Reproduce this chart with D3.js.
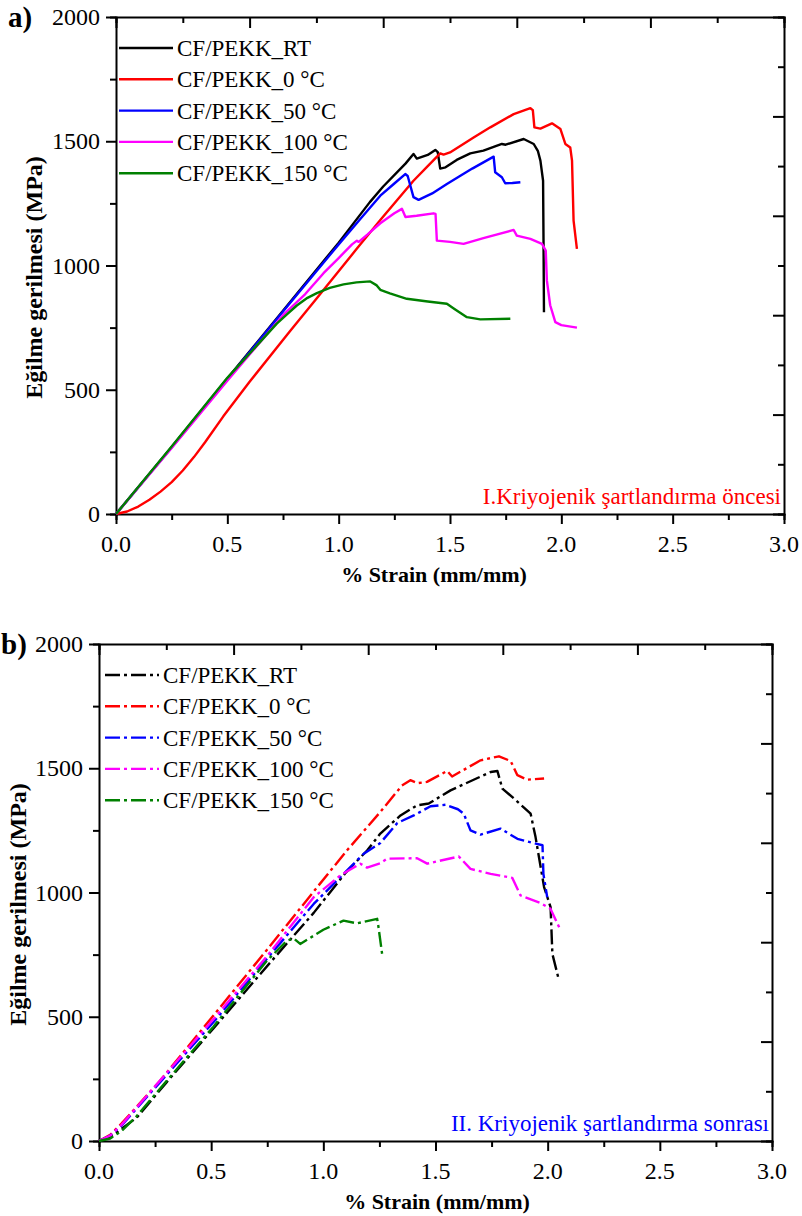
<!DOCTYPE html>
<html>
<head>
<meta charset="utf-8">
<script src="https://cdnjs.cloudflare.com/ajax/libs/d3/7.8.5/d3.min.js"></script>
<style>
  body { margin: 0; background: #fff; }
</style>
</head>
<body>
<div id="chart"></div>
<script>
// legend names + colours (same for both panels)
const seriesNames = ["CF/PEKK_RT", "CF/PEKK_0 °C", "CF/PEKK_50 °C", "CF/PEKK_100 °C", "CF/PEKK_150 °C"];
const seriesColors = ["#000000", "#ff0000", "#0000ff", "#ff00ff", "#008000"];

const xTickValues = [0, 0.5, 1.0, 1.5, 2.0, 2.5, 3.0];
const yTickValues = [0, 500, 1000, 1500, 2000];

const serif = "'Liberation Serif', 'Times New Roman', Times, serif";

// a) before cryogenic conditioning  [strain %, stress MPa]
const rtBefore = [[0,0],[0.25,270],[0.5,545],[0.75,818],[1.0,1092],[1.14,1255],[1.2,1318],[1.3,1410],[1.336,1449],[1.351,1430],[1.40,1445],[1.434,1465],[1.445,1456],[1.456,1390],[1.48,1395],[1.53,1425],[1.591,1451],[1.65,1462],[1.733,1489],[1.75,1486],[1.831,1509],[1.876,1489],[1.895,1460],[1.906,1422],[1.918,1341],[1.92,1100],[1.922,812]];
const c0Before = [[0,0],[0.05,10],[0.1,30],[0.15,57],[0.2,90],[0.25,128],[0.3,175],[0.35,229],[0.4,289],[0.482,393],[0.6,532],[0.782,736],[0.9,866],[1.082,1068],[1.187,1183],[1.336,1341],[1.4,1400],[1.456,1451],[1.471,1446],[1.5,1455],[1.606,1515],[1.681,1556],[1.786,1609],[1.861,1633],[1.872,1625],[1.879,1556],[1.906,1551],[1.958,1572],[1.996,1549],[2.018,1489],[2.040,1475],[2.048,1422],[2.055,1181],[2.07,1067]];
const c50Before = [[0,0],[0.25,268],[0.5,542],[0.75,815],[1.0,1085],[1.1,1190],[1.187,1281],[1.25,1330],[1.299,1368],[1.31,1360],[1.336,1275],[1.359,1264],[1.42,1290],[1.486,1328],[1.6,1390],[1.696,1438],[1.703,1375],[1.733,1355],[1.748,1331],[1.78,1332],[1.816,1335]];
const c100Before = [[0,0],[0.25,266],[0.5,536],[0.75,800],[0.85,885],[0.932,969],[1.0,1030],[1.06,1085],[1.082,1100],[1.09,1095],[1.13,1125],[1.187,1170],[1.25,1210],[1.284,1228],[1.3,1195],[1.35,1200],[1.426,1210],[1.435,1208],[1.441,1100],[1.5,1095],[1.561,1087],[1.65,1110],[1.786,1143],[1.80,1120],[1.861,1107],[1.913,1087],[1.93,1060],[1.935,940],[1.95,840],[1.973,772],[2.0,760],[2.07,750]];
const c150Before = [[0,0],[0.25,272],[0.5,548],[0.722,766],[0.77,805],[0.812,839],[0.86,870],[0.902,889],[0.96,910],[1.022,924],[1.08,932],[1.142,936],[1.171,920],[1.187,902],[1.23,888],[1.306,866],[1.4,855],[1.486,846],[1.52,825],[1.576,792],[1.636,783],[1.771,786]];

// b) after cryogenic conditioning
const rtAfter = [[0,0],[0.05,15],[0.168,94],[0.3,235],[0.51,453],[0.763,718],[0.957,918],[1.1,1080],[1.195,1169],[1.254,1237],[1.344,1310],[1.418,1351],[1.47,1358],[1.567,1411],[1.746,1485],[1.776,1489],[1.798,1418],[1.85,1378],[1.924,1317],[1.946,1223],[1.984,1022],[2.013,941],[2.021,753],[2.05,648]];
const c0After = [[0,0],[0.05,25],[0.1,70],[0.272,242],[0.54,538],[0.749,770],[0.957,1004],[1.106,1170],[1.254,1324],[1.35,1430],[1.388,1452],[1.42,1440],[1.462,1445],[1.552,1489],[1.574,1467],[1.701,1532],[1.783,1548],[1.835,1529],[1.865,1472],[1.909,1454],[1.984,1459]];
const c50After = [[0,0],[0.05,22],[0.1,62],[0.3,265],[0.51,478],[0.75,735],[0.957,954],[1.18,1156],[1.254,1199],[1.33,1280],[1.403,1310],[1.478,1347],[1.545,1353],[1.6,1335],[1.626,1317],[1.656,1250],[1.701,1233],[1.79,1257],[1.865,1216],[1.977,1190],[1.981,1075],[1.998,981]];
const c100After = [[0,0],[0.05,22],[0.1,65],[0.3,272],[0.51,490],[0.75,745],[0.957,981],[1.076,1069],[1.165,1116],[1.195,1100],[1.254,1118],[1.284,1136],[1.418,1138],[1.463,1116],[1.604,1145],[1.656,1095],[1.746,1075],[1.842,1059],[1.879,988],[1.969,957],[2.013,934],[2.058,847]];
const c150After = [[0,0],[0.05,10],[0.1,40],[0.168,100],[0.3,240],[0.51,460],[0.749,726],[0.838,806],[0.868,815],[0.897,793],[1.0,850],[1.09,887],[1.15,876],[1.24,894],[1.246,860],[1.262,753]];

class StrainChart {

    /**
     * one panel of the figure
     * @param svg   parent svg
     * @param opts  frame position, series, labels
     */
    constructor(svg, opts) {
        this.svg = svg;
        this.opts = opts;
        this.g = svg.append("g").attr("font-family", serif);
        this.x = d3.scaleLinear().domain([0, 3]).range([opts.left, opts.right]);
        this.y = d3.scaleLinear().domain([0, 2000]).range([opts.bottom, opts.top]);
        this.update();
    }

    update() {
        const o = this.opts, x = this.x, y = this.y, g = this.g;

        // bottom axis, ticks outward
        g.append("g")
            .attr("transform", `translate(0,${o.bottom})`)
            .call(d3.axisBottom(x).tickValues(d3.range(0, 3.01, 0.25)).tickSize(6).tickFormat(""))
            .call(a => a.selectAll("line").attr("stroke-width", 2).attr("y2", d => (Math.round(d * 4) % 2 === 0 ? 10 : 6)));
        g.append("g")
            .selectAll("text").data(xTickValues).enter().append("text")
            .attr("x", d => x(d)).attr("y", o.bottom + 38)
            .attr("text-anchor", "middle").attr("font-size", 24)
            .attr("font-family", serif)
            .text(d => d.toFixed(1));

        // top axis, ticks inward every 0.3
        g.append("g")
            .attr("transform", `translate(0,${o.top})`)
            .call(d3.axisBottom(x).tickValues(d3.range(0, 3.01, 0.3)).tickFormat(""))
            .call(a => a.selectAll("line").attr("stroke-width", 2).attr("y2", d => (Math.round(d / 0.3) % 2 === 0 ? 11 : 6)));

        // left axis, ticks outward
        g.append("g")
            .attr("transform", `translate(${o.left},0)`)
            .call(d3.axisLeft(y).tickValues(d3.range(0, 2001, 250)).tickFormat(""))
            .call(a => a.selectAll("line").attr("stroke-width", 2).attr("x2", d => (d % 500 === 0 ? -10 : -6)));
        g.append("g")
            .selectAll("text").data(yTickValues).enter().append("text")
            .attr("x", o.left - 16).attr("y", d => y(d) + 8)
            .attr("text-anchor", "end").attr("font-size", 24)
            .attr("font-family", serif)
            .text(d => d);

        // right axis, ticks inward every 200
        g.append("g")
            .attr("transform", `translate(${o.right},0)`)
            .call(d3.axisLeft(y).tickValues(d3.range(0, 2001, 200)).tickFormat(""))
            .call(a => a.selectAll("line").attr("stroke-width", 2).attr("x2", d => (d % 400 === 0 ? -11 : -6)));

        g.selectAll(".domain").attr("stroke-width", 2);

        // curves
        const line = d3.line().x(d => x(d[0])).y(d => y(d[1]));
        o.series.forEach((s, i) => {
            g.append("path")
                .datum(s)
                .attr("d", line)
                .attr("fill", "none")
                .attr("stroke", seriesColors[i])
                .attr("stroke-width", 2.4)
                .attr("stroke-linejoin", "round")
                .attr("stroke-dasharray", o.dash);
        });

        // legend
        let leg = g.append("g");
        seriesNames.forEach((n, i) => {
            let ly = o.legendY + i * 31.3;
            leg.append("line")
                .attr("x1", o.legendX).attr("x2", o.legendX + 54)
                .attr("y1", ly).attr("y2", ly)
                .attr("stroke", seriesColors[i]).attr("stroke-width", 2.4)
                .attr("stroke-dasharray", o.dash);
            leg.append("text")
                .attr("x", o.legendX + 58).attr("y", ly + 8)
                .attr("font-size", 23).attr("font-family", serif)
                .text(n);
        });

        // note in the corner
        g.append("text")
            .attr("x", o.right - 3).attr("y", o.bottom - 10)
            .attr("text-anchor", "end").attr("font-size", 23)
            .attr("font-family", serif)
            .attr("fill", o.noteColor)
            .text(o.note);

        // axis titles
        g.append("text")
            .attr("x", o.xTitleX).attr("y", o.bottom + 68)
            .attr("text-anchor", "middle").attr("font-size", 22).attr("font-weight", "bold")
            .attr("font-family", serif)
            .text("% Strain (mm/mm)");
        g.append("text")
            .attr("transform", `translate(${o.titleX},${(o.top + o.bottom) / 2 + 12}) rotate(-90)`)
            .attr("text-anchor", "middle").attr("font-size", 24).attr("font-weight", "bold")
            .attr("font-family", serif)
            .text("Eğilme gerilmesi (MPa)");

        // panel letter
        g.append("text")
            .attr("x", o.letterX).attr("y", o.top + 10)
            .attr("font-size", 29).attr("font-weight", "bold")
            .attr("font-family", serif)
            .text(o.letter);
    }
}

let svg = d3.select("#chart").append("svg")
    .attr("width", 802)
    .attr("height", 1216);

new StrainChart(svg, {
    left: 116, right: 784, top: 17, bottom: 514,
    series: [rtBefore, c0Before, c50Before, c100Before, c150Before],
    dash: null,
    legendX: 119, legendY: 48,
    note: "I.Kriyojenik şartlandırma öncesi", noteColor: "#ff0000",
    titleX: 42, xTitleX: 434, letter: "a)", letterX: 8
});

new StrainChart(svg, {
    left: 99, right: 772, top: 644, bottom: 1141,
    series: [rtAfter, c0After, c50After, c100After, c150After],
    dash: "15,4,3,4",
    legendX: 105, legendY: 675,
    note: "II. Kriyojenik şartlandırma sonrası", noteColor: "#0000ff",
    titleX: 26, xTitleX: 437, letter: "b)", letterX: 1
});
</script>
</body>
</html>
